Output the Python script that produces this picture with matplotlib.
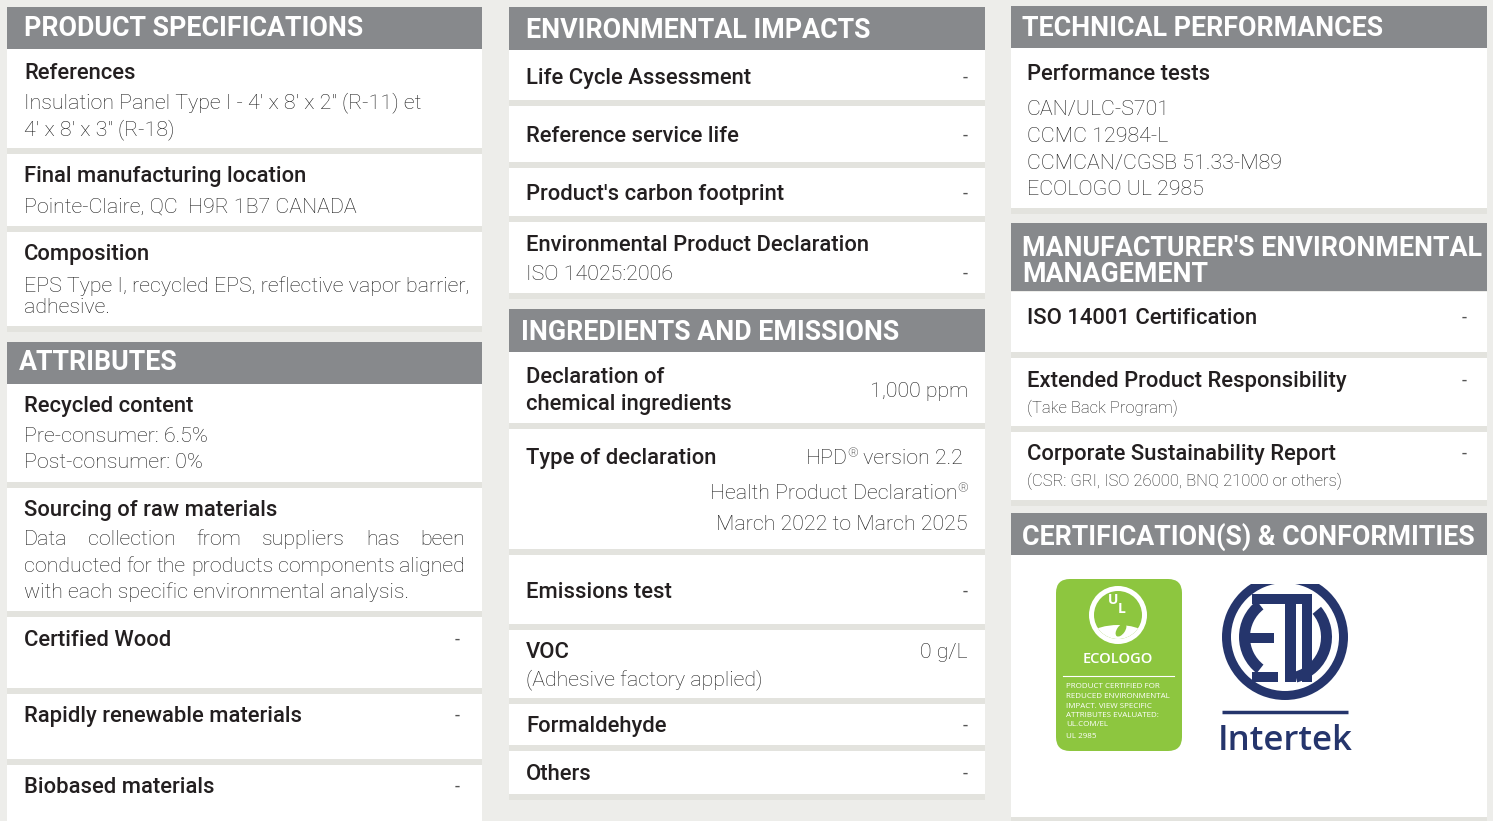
import matplotlib.pyplot as plt
from matplotlib.patches import Rectangle, FancyBboxPatch, Circle, Wedge, Ellipse

# ---- content ----
spec_header = "PRODUCT SPECIFICATIONS"
spec_titles = ["References", "Final manufacturing location", "Composition"]
spec_values = [["Insulation Panel Type I - 4' x 8' x 2\" (R-11) et", "4' x 8' x 3\" (R-18)"],
               ["Pointe-Claire, QC  H9R 1B7 CANADA"],
               ["EPS Type I, recycled EPS, reflective vapor barrier,", "adhesive."]]

attr_header = "ATTRIBUTES"
recycled_title = "Recycled content"
recycled_values = ["Pre-consumer: 6.5%", "Post-consumer: 0%"]
sourcing_title = "Sourcing of raw materials"
sourcing_lines = ["Data collection from suppliers has been",
                  "conducted for the products components aligned",
                  "with each specific environmental analysis."]
attr_empty = ["Certified Wood", "Rapidly renewable materials", "Biobased materials"]

env_header = "ENVIRONMENTAL IMPACTS"
env_titles = ["Life Cycle Assessment", "Reference service life", "Product's carbon footprint",
              "Environmental Product Declaration"]
env_sub = ["", "", "", "ISO 14025:2006"]

ing_header = "INGREDIENTS AND EMISSIONS"
chem_title = ["Declaration of", "chemical ingredients"]
chem_value = "1,000 ppm"
decl_title = "Type of declaration"
decl_values = ["HPD\u00ae version 2.2", "Health Product Declaration\u00ae", "March 2022 to March 2025"]
emis_title = "Emissions test"
voc_title = "VOC"
voc_sub = "(Adhesive factory applied)"
voc_value = "0 g/L"
ing_empty = ["Formaldehyde", "Others"]

tech_header = "TECHNICAL PERFORMANCES"
perf_title = "Performance tests"
perf_values = ["CAN/ULC-S701", "CCMC 12984-L", "CCMCAN/CGSB 51.33-M89", "ECOLOGO UL 2985"]

mgmt_header = ["MANUFACTURER'S ENVIRONMENTAL", "MANAGEMENT"]
mgmt_titles = ["ISO 14001 Certification", "Extended Product Responsibility",
               "Corporate Sustainability Report"]
mgmt_sub = ["", "(Take Back Program)", "(CSR: GRI, ISO 26000, BNQ 21000 or others)"]

cert_header = "CERTIFICATION(S) & CONFORMITIES"
ecologo_small = ["PRODUCT CERTIFIED FOR", "REDUCED ENVIRONMENTAL", "IMPACT. VIEW SPECIFIC",
                 "ATTRIBUTES EVALUATED:", "UL.COM/EL", "UL 2985"]

# ---- style ----
BG = "#ededea"
STRIP = "#e3e3de"
GRAY = "#87898c"
DARK = "#231f20"
BODY = "#1c1c1c"
GREEN = "#8dc63f"
NAVY = "#25356c"
FONT = ["Roboto", "DejaVu Sans"]
LOGO_FONT = ["Open Sans", "DejaVu Sans"]
BODY_SIZE = 15.4

W, H = 1493, 821
fig = plt.figure(figsize=(W / 100, H / 100), dpi=100)
fig.patch.set_facecolor(BG)
ax = fig.add_axes([0, 0, 1, 1])
ax.set_xlim(0, W)
ax.set_ylim(H, 0)
ax.axis("off")
renderer = fig.canvas.get_renderer()


def header(x0, x1, y0, y1):
    ax.add_patch(Rectangle((x0, y0), x1 - x0, y1 - y0, color=GRAY, lw=0))


def card(x0, x1, y0, y1, strip=6):
    ax.add_patch(Rectangle((x0, y0), x1 - x0, y1 - y0, color="white", lw=0))
    ax.add_patch(Rectangle((x0, y1), x1 - x0, strip, color=STRIP, lw=0))


def htext(x, y, s):
    ax.text(x, y + 1, s, fontsize=19.3, fontweight="bold", color="white", va="center", family=FONT)


def title(x, y, s):
    return ax.text(x, y + 1.5, s, fontsize=15.8, fontweight="medium", color=DARK, va="center",
                   family=FONT)


def body(x, y, s, ha="left", size=BODY_SIZE):
    return ax.text(x, y + 1.5, s, fontsize=size, fontweight="light", color=BODY, va="center",
                   ha=ha, family=FONT)


def dash(x, y):
    ax.text(x, y + 1, "-", fontsize=13, fontweight="normal", color="#555555", va="center",
            ha="right", family=FONT)


def justify(line, x0, x1, y):
    words = line.split()
    ts = [body(x0, y, w) for w in words]
    widths = [t.get_window_extent(renderer).width for t in ts]
    gap = (x1 - x0 - sum(widths)) / (len(words) - 1)
    x = x0
    for t, w in zip(ts, widths):
        t.set_x(x)
        x += w + gap


def body_right_reg(xr, y, s):
    # right-aligned body text with a raised, smaller registered sign
    parts = s.split("\u00ae")
    segs = []
    for i, p in enumerate(parts):
        if p:
            segs.append((p, BODY_SIZE, 0))
        if i < len(parts) - 1:
            segs.append(("\u00ae", BODY_SIZE * 0.62, -5))
    ts = [ax.text(0, y + 1.5 + dy, s_, fontsize=sz, fontweight="light", color=BODY, va="center",
                  family=FONT) for s_, sz, dy in segs]
    widths = [t.get_window_extent(renderer).width for t in ts]
    x = xr - sum(widths)
    for t, w in zip(ts, widths):
        t.set_x(x)
        x += w


# ---- column 1 ----
c1 = (7, 482)
header(*c1, 7, 49)
htext(24, 28, spec_header)
for (y0, y1) in [(49, 148), (154, 226), (232, 326)]:
    card(*c1, y0, y1)
title(24, 72, spec_titles[0])
body(24, 101, spec_values[0][0])
body(24, 128, spec_values[0][1])
title(24, 175, spec_titles[1])
body(24, 206, spec_values[1][0])
title(24, 253, spec_titles[2])
body(24, 285, spec_values[2][0])
body(24, 306, spec_values[2][1])

header(*c1, 342, 384)
htext(19, 362, attr_header)
for (y0, y1) in [(384, 482), (488, 611), (617, 688), (694, 759), (765, 830)]:
    card(*c1, y0, y1)
title(24, 405, recycled_title)
body(24, 435, recycled_values[0])
body(24, 461, recycled_values[1])
title(24, 509, sourcing_title)
justify(sourcing_lines[0], 24, 465, 538)
justify(sourcing_lines[1], 24, 465, 565)
body(24, 591, sourcing_lines[2])
for y, s in zip([639, 715, 786], attr_empty):
    title(24, y, s)
    dash(460, y)

# ---- column 2 ----
c2 = (509, 985)
header(*c2, 7, 50)
htext(526, 29, env_header)
for (y0, y1) in [(50, 100), (106, 162), (168, 216), (222, 293)]:
    card(*c2, y0, y1)
for y, s in zip([77, 135, 193], env_titles[:3]):
    title(526, y, s)
    dash(968, y)
title(526, 244, env_titles[3])
body(526, 273, env_sub[3])
dash(968, 273)

header(*c2, 309, 352)
htext(521, 331, ing_header)
for (y0, y1) in [(352, 423), (429, 549), (555, 624), (630, 698), (704, 745), (751, 794)]:
    card(*c2, y0, y1)
title(526, 376, chem_title[0])
title(526, 403, chem_title[1])
body(968, 390, chem_value, ha="right")
title(526, 457, decl_title)
body_right_reg(963, 457, decl_values[0])
body_right_reg(968, 492, decl_values[1])
body_right_reg(968, 523, decl_values[2])
title(526, 591, emis_title)
dash(968, 591)
title(526, 651, voc_title)
body(526, 678, voc_sub)
body(968, 651, voc_value, ha="right")
for y, s in zip([725, 773], ing_empty):
    title(526, y, s)
    dash(968, y)

# ---- column 3 ----
c3 = (1011, 1487)
header(*c3, 6, 48)
htext(1022, 28, tech_header)
card(*c3, 48, 208)
title(1027, 73, perf_title)
for y, s in zip([108, 135, 162, 188], perf_values):
    body(1027, y, s)

header(*c3, 223, 291)
htext(1022, 247, mgmt_header[0])
htext(1022, 273, mgmt_header[1])
for (y0, y1) in [(292, 352), (358, 426), (432, 500)]:
    card(*c3, y0, y1)
for y, s, sub in zip([317, 380, 453], mgmt_titles, mgmt_sub):
    title(1027, y, s)
    dash(1467, y)
    if sub:
        body(1027, y + 27, sub, size=12)

header(*c3, 513, 555)
htext(1022, 536, cert_header)
card(*c3, 555, 817, strip=4)

# ECOLOGO badge
ax.add_patch(FancyBboxPatch((1056, 579), 126, 172, boxstyle="round,pad=0,rounding_size=14",
                            fc=GREEN, ec="none"))
ax.add_patch(Circle((1118, 615), 29, color="white", lw=0))
inner = Circle((1118, 615), 24, color=GREEN, lw=0)
ax.add_patch(inner)
hill = Ellipse((1118, 655), 90, 60, color="white", lw=0)
ax.add_patch(hill)
hill.set_clip_path(inner)
ax.add_patch(Ellipse((1121, 630), 8, 15, angle=35, color=GREEN, lw=0))
ax.text(1113, 600, "U", fontsize=10, fontweight="bold", color="white", ha="center", va="center",
        family=LOGO_FONT)
ax.text(1122, 609, "L", fontsize=10, fontweight="bold", color="white", ha="center", va="center",
        family=LOGO_FONT)
ax.text(1118, 659, "ECOLOGO", fontsize=10.5, fontweight="semibold", color="white", ha="center",
        va="center", family=LOGO_FONT)
ax.plot([1063, 1174], [676, 676], color="white", lw=0.8)
for y, s in zip([687, 696.5, 706, 715.5, 725, 737], ecologo_small):
    ax.text(1066, y, s, fontsize=5.8, color="white", va="center", family=LOGO_FONT)

# ETL mark
clip = Rectangle((1200, 584), 170, 140, transform=ax.transData)
cx, cy = 1285, 637
ring = Wedge((cx, cy), 63, 0, 360, width=9, color=NAVY, lw=0)
ax.add_patch(ring)
ring.set_clip_path(clip)
ax.add_patch(Wedge((cx, cy), 46, 128, 232, width=11, color=NAVY, lw=0))
for (x0, y0, w, h) in [(1252, 594, 26, 10), (1244, 633, 30, 10), (1252, 672, 26, 10)]:
    ax.add_patch(Rectangle((x0, y0), w, h, color=NAVY, lw=0))
ax.add_patch(Rectangle((1277, 594), 27, 10, color=NAVY, lw=0))
ax.add_patch(Rectangle((1285, 594), 11, 88, color=NAVY, lw=0))
ax.add_patch(Rectangle((1302, 594), 10, 88, color=NAVY, lw=0))
ax.add_patch(Wedge((cx, cy), 47, -40, 75, width=11, color=NAVY, lw=0))
ax.plot([1222, 1348], [712.5, 712.5], color=NAVY, lw=2.5, solid_capstyle="butt")
ax.text(cx, 750, "Intertek", fontsize=25, fontweight="semibold", color=NAVY, ha="center",
        va="baseline", family=LOGO_FONT)

fig.savefig("out.png", dpi=100, facecolor=BG)
